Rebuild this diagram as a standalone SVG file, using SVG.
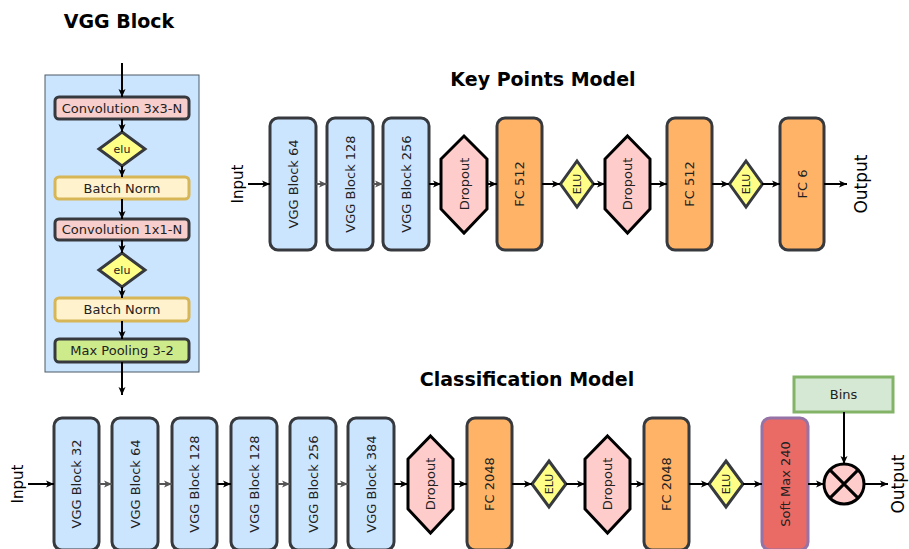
<svg xmlns="http://www.w3.org/2000/svg" width="909" height="549" viewBox="0 0 909 549">
<defs>
<marker id="ah" markerUnits="userSpaceOnUse" markerWidth="10" markerHeight="10" viewBox="0 0 10 10" refX="9" refY="5" orient="auto"><path d="M1,1.5 L9,5 L1,8.5 L3,5 Z" fill="#000"/></marker>
<marker id="ahg" markerUnits="userSpaceOnUse" markerWidth="10" markerHeight="10" viewBox="0 0 10 10" refX="9" refY="5" orient="auto"><path d="M1,1.5 L9,5 L1,8.5 L3,5 Z" fill="#555"/></marker>
<style>
text{font-family:"DejaVu Sans","Liberation Sans",sans-serif;fill:#222}
.title{font-weight:bold;font-size:19px;fill:#000;text-anchor:middle}
.lbl{font-size:13px;text-anchor:middle;dominant-baseline:central}
.sm{font-size:11px;text-anchor:middle;dominant-baseline:central}
.io{text-anchor:middle;dominant-baseline:central;fill:#000}
.vgg{fill:#cce5ff;stroke:#36393d;stroke-width:3}
.fc{fill:#ffb366;stroke:#36393d;stroke-width:3}
.drop{fill:#ffcccc;stroke:#000;stroke-width:3}
.elu{fill:#ffff88;stroke:#36393d;stroke-width:3}
.conv{fill:#f8cecc;stroke:#36393d;stroke-width:3}
.bn{fill:#fff2cc;stroke:#d6b656;stroke-width:3}
.mp{fill:#cdeb8b;stroke:#36393d;stroke-width:3}
.c{stroke:#000;stroke-width:2;fill:none;marker-end:url(#ah)}
.cg{stroke:#555;stroke-width:2;fill:none;marker-end:url(#ahg)}
</style>
</defs>
<rect width="909" height="549" fill="#fff"/>
<text class="title" x="119" y="28">VGG Block</text>
<text class="title" x="543" y="86">Key Points Model</text>
<text class="title" x="527" y="386">Classification Model</text>

<g id="vgg-panel">
<rect x="45" y="75" width="154" height="297" fill="#cce5ff" stroke="#4d5a66" stroke-width="1"/>
</g>
<g id="p-conv1"><rect class="conv" x="55" y="97" width="134" height="22" rx="4"/><text class="lbl" x="122" y="108">Convolution 3x3-N</text></g>
<g id="p-elu1"><polygon class="elu" points="122,132 145,149 122,166 99,149"/><text class="sm" x="122" y="149">elu</text></g>
<g id="p-bn1"><rect class="bn" x="55" y="177" width="134" height="22" rx="4"/><text class="lbl" x="122" y="188">Batch Norm</text></g>
<g id="p-conv2"><rect class="conv" x="55" y="219" width="134" height="21" rx="4"/><text class="lbl" x="122" y="229.5">Convolution 1x1-N</text></g>
<g id="p-elu2"><polygon class="elu" points="122,253 145,270 122,287 99,270"/><text class="sm" x="122" y="270">elu</text></g>
<g id="p-bn2"><rect class="bn" x="55" y="298" width="134" height="23" rx="4"/><text class="lbl" x="122" y="309.5">Batch Norm</text></g>
<g id="p-mp"><rect class="mp" x="55" y="339" width="134" height="23" rx="4"/><text class="lbl" x="122" y="350.5">Max Pooling 3-2</text></g>

<!-- Key points model -->
<text class="io" font-size="15" transform="translate(238,184) rotate(-90)">Input</text>
<g id="k-vgg64"><rect class="vgg" x="270" y="118" width="46" height="132" rx="8"/><text class="lbl" transform="translate(293,184) rotate(-90)">VGG Block 64</text></g>
<g id="k-vgg128"><rect class="vgg" x="327" y="118" width="46" height="132" rx="8"/><text class="lbl" transform="translate(350,184) rotate(-90)">VGG Block 128</text></g>
<g id="k-vgg256"><rect class="vgg" x="383" y="118" width="46" height="132" rx="8"/><text class="lbl" transform="translate(406,184) rotate(-90)">VGG Block 256</text></g>
<g id="k-drop1"><polygon class="drop" points="464,136 487,159 487,209 464,233 441,209 441,159"/><text class="lbl" transform="translate(464,184) rotate(-90)">Dropout</text></g>
<g id="k-fc1"><rect class="fc" x="497" y="118" width="45" height="132" rx="8"/><text class="lbl" transform="translate(519.5,184) rotate(-90)">FC 512</text></g>
<g id="k-elu1"><polygon class="elu" points="577,161 593.5,184 577,207 560.5,184"/><text class="sm" transform="translate(577,184) rotate(-90)">ELU</text></g>
<g id="k-drop2"><polygon class="drop" points="627.5,136 650,159 650,209 627.5,233 605,209 605,159"/><text class="lbl" transform="translate(627.5,184) rotate(-90)">Dropout</text></g>
<g id="k-fc2"><rect class="fc" x="667" y="118" width="45" height="132" rx="8"/><text class="lbl" transform="translate(689.5,184) rotate(-90)">FC 512</text></g>
<g id="k-elu2"><polygon class="elu" points="746,161 762.5,184 746,207 729.5,184"/><text class="sm" transform="translate(746,184) rotate(-90)">ELU</text></g>
<g id="k-fc3"><rect class="fc" x="780" y="118" width="44" height="132" rx="8"/><text class="lbl" transform="translate(802,184) rotate(-90)">FC 6</text></g>
<text class="io" font-size="17" transform="translate(861,184) rotate(-90)">Output</text>

<!-- Classification model -->
<text class="io" font-size="15" transform="translate(18,484) rotate(-90)">Input</text>
<g id="c-vgg32"><rect class="vgg" x="54" y="418" width="45" height="132" rx="8"/><text class="lbl" transform="translate(76.5,484) rotate(-90)">VGG Block 32</text></g>
<g id="c-vgg64"><rect class="vgg" x="112" y="418" width="46" height="132" rx="8"/><text class="lbl" transform="translate(135,484) rotate(-90)">VGG Block 64</text></g>
<g id="c-vgg128a"><rect class="vgg" x="172" y="418" width="45" height="132" rx="8"/><text class="lbl" transform="translate(194.5,484) rotate(-90)">VGG Block 128</text></g>
<g id="c-vgg128b"><rect class="vgg" x="231" y="418" width="46" height="132" rx="8"/><text class="lbl" transform="translate(254,484) rotate(-90)">VGG Block 128</text></g>
<g id="c-vgg256"><rect class="vgg" x="290" y="418" width="46" height="132" rx="8"/><text class="lbl" transform="translate(313,484) rotate(-90)">VGG Block 256</text></g>
<g id="c-vgg384"><rect class="vgg" x="348" y="418" width="46" height="132" rx="8"/><text class="lbl" transform="translate(371,484) rotate(-90)">VGG Block 384</text></g>
<g id="c-drop1"><polygon class="drop" points="430.5,436 453,459 453,509 430.5,533 408,509 408,459"/><text class="lbl" transform="translate(430.5,484) rotate(-90)">Dropout</text></g>
<g id="c-fc1"><rect class="fc" x="467" y="418" width="45" height="132" rx="8"/><text class="lbl" transform="translate(489.5,484) rotate(-90)">FC 2048</text></g>
<g id="c-elu1"><polygon class="elu" points="549,461 566,484 549,507 532,484"/><text class="sm" transform="translate(549,484) rotate(-90)">ELU</text></g>
<g id="c-drop2"><polygon class="drop" points="607.5,436 630,459 630,509 607.5,533 585,509 585,459"/><text class="lbl" transform="translate(607.5,484) rotate(-90)">Dropout</text></g>
<g id="c-fc2"><rect class="fc" x="644" y="418" width="45" height="132" rx="8"/><text class="lbl" transform="translate(666.5,484) rotate(-90)">FC 2048</text></g>
<g id="c-elu2"><polygon class="elu" points="726,461 743,484 726,507 709,484"/><text class="sm" transform="translate(726,484) rotate(-90)">ELU</text></g>
<g id="c-softmax"><rect x="762" y="418" width="46" height="132" rx="8" fill="#ea6b66" stroke="#9673a6" stroke-width="3"/><text class="lbl" transform="translate(785,484) rotate(-90)">Soft Max 240</text></g>
<g id="c-bins"><rect x="794" y="377" width="99" height="35" fill="#d5e8d4" stroke="#82b366" stroke-width="3"/><text class="lbl" x="843.5" y="394.5">Bins</text></g>
<g id="c-mult"><circle cx="844" cy="484" r="20" fill="#ffcccc" stroke="#000" stroke-width="3"/><path d="M829.9,469.9 L858.1,498.1 M858.1,469.9 L829.9,498.1" stroke="#000" stroke-width="3"/></g>
<text class="io" font-size="17" transform="translate(898,484) rotate(-90)">Output</text>

<g id="connectors">
<line class="c" x1="122" y1="63" x2="122" y2="97"/>
<line class="c" x1="122" y1="119" x2="122" y2="132"/>
<line class="c" x1="122" y1="166" x2="122" y2="177"/>
<line class="c" x1="122" y1="199" x2="122" y2="219"/>
<line class="c" x1="122" y1="240" x2="122" y2="253"/>
<line class="c" x1="122" y1="287" x2="122" y2="298"/>
<line class="c" x1="122" y1="321" x2="122" y2="339"/>
<line class="c" x1="122" y1="362" x2="122" y2="395"/>

<line class="c" x1="248" y1="184" x2="270" y2="184"/>
<line class="cg" x1="316" y1="184" x2="327" y2="184"/>
<line class="cg" x1="373" y1="184" x2="383" y2="184"/>
<line class="c" x1="429" y1="184" x2="441" y2="184"/>
<line class="c" x1="487" y1="184" x2="497" y2="184"/>
<line class="c" x1="542" y1="184" x2="560" y2="184"/>
<line class="c" x1="593" y1="184" x2="605" y2="184"/>
<line class="c" x1="650" y1="184" x2="667" y2="184"/>
<line class="c" x1="712" y1="184" x2="729" y2="184"/>
<line class="c" x1="762" y1="184" x2="780" y2="184"/>
<line class="c" x1="824" y1="184" x2="847" y2="184"/>

<line class="c" x1="28" y1="484" x2="54" y2="484"/>
<line class="cg" x1="99" y1="484" x2="112" y2="484"/>
<line class="cg" x1="158" y1="484" x2="172" y2="484"/>
<line class="c" x1="217" y1="484" x2="231" y2="484"/>
<line class="cg" x1="277" y1="484" x2="290" y2="484"/>
<line class="cg" x1="336" y1="484" x2="348" y2="484"/>
<line class="c" x1="394" y1="484" x2="408" y2="484"/>
<line class="c" x1="453" y1="484" x2="467" y2="484"/>
<line class="c" x1="512" y1="484" x2="532" y2="484"/>
<line class="c" x1="566" y1="484" x2="585" y2="484"/>
<line class="c" x1="630" y1="484" x2="644" y2="484"/>
<line class="c" x1="689" y1="484" x2="709" y2="484"/>
<line class="c" x1="743" y1="484" x2="762" y2="484"/>
<line class="c" x1="808" y1="484" x2="824" y2="484"/>
<line class="c" x1="864" y1="484" x2="888" y2="484"/>
<line class="c" x1="844" y1="412" x2="844" y2="464"/>
</g>
</svg>
